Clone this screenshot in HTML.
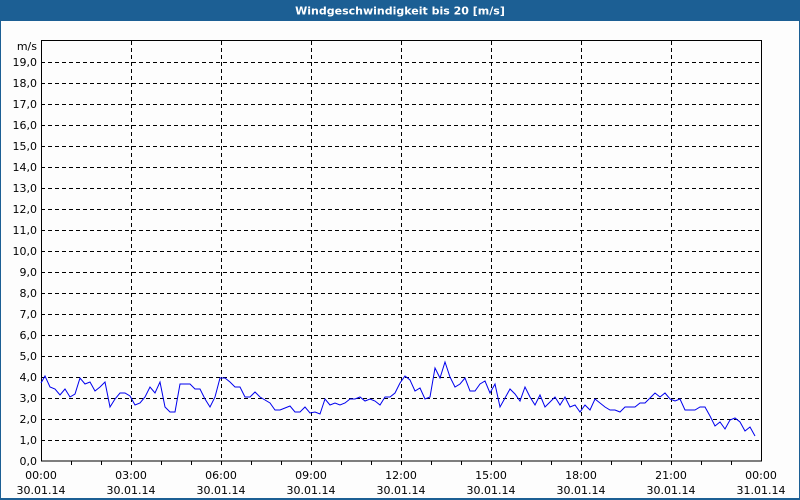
<!DOCTYPE html>
<html><head><style>
html,body{margin:0;padding:0;width:800px;height:500px;overflow:hidden;background:#fff}
</style></head><body>
<svg width="800" height="500" xmlns="http://www.w3.org/2000/svg" font-family="Tahoma, 'DejaVu Sans', 'Liberation Sans', sans-serif" font-size="11">
<rect x="0" y="0" width="800" height="500" fill="#1c5f94"/>
<rect x="1" y="21" width="798" height="477" fill="#fdfdfd"/>
<text x="400" y="14.5" fill="#fff" font-weight="bold" text-anchor="middle">Windgeschwindigkeit bis 20 [m/s]</text>
<g stroke="#000" stroke-width="1" stroke-dasharray="4,3" fill="none">
<path d="M41 440.5H761M41 419.5H761M41 398.5H761M41 377.5H761M41 356.5H761M41 335.5H761M41 314.5H761M41 293.5H761M41 272.5H761M41 251.5H761M41 230.5H761M41 209.5H761M41 188.5H761M41 167.5H761M41 146.5H761M41 125.5H761M41 104.5H761M41 83.5H761M41 62.5H761"/>
<path d="M131.5 41V461M221.5 41V461M311.5 41V461M401.5 41V461M491.5 41V461M581.5 41V461M671.5 41V461"/>
</g>
<rect x="41.5" y="40.5" width="720" height="420.5" fill="none" stroke="#000"/>
<g stroke="#000"><path d="M71.5 461v4M101.5 461v4M131.5 461v4M161.5 461v4M191.5 461v4M221.5 461v4M251.5 461v4M281.5 461v4M311.5 461v4M341.5 461v4M371.5 461v4M401.5 461v4M431.5 461v4M461.5 461v4M491.5 461v4M521.5 461v4M551.5 461v4M581.5 461v4M611.5 461v4M641.5 461v4M671.5 461v4M701.5 461v4M731.5 461v4"/></g>
<g fill="#000" text-anchor="end">
<text x="37" y="50">m/s</text>
<text x="37" y="465">0,0</text><text x="37" y="444">1,0</text><text x="37" y="423">2,0</text><text x="37" y="402">3,0</text><text x="37" y="381">4,0</text><text x="37" y="360">5,0</text><text x="37" y="339">6,0</text><text x="37" y="318">7,0</text><text x="37" y="297">8,0</text><text x="37" y="276">9,0</text><text x="37" y="255">10,0</text><text x="37" y="234">11,0</text><text x="37" y="213">12,0</text><text x="37" y="192">13,0</text><text x="37" y="171">14,0</text><text x="37" y="150">15,0</text><text x="37" y="129">16,0</text><text x="37" y="108">17,0</text><text x="37" y="87">18,0</text><text x="37" y="66">19,0</text>
</g>
<g fill="#000" text-anchor="middle">
<text x="41" y="479">00:00</text><text x="41" y="494">30.01.14</text>
<text x="131" y="479">03:00</text><text x="131" y="494">30.01.14</text>
<text x="221" y="479">06:00</text><text x="221" y="494">30.01.14</text>
<text x="311" y="479">09:00</text><text x="311" y="494">30.01.14</text>
<text x="401" y="479">12:00</text><text x="401" y="494">30.01.14</text>
<text x="491" y="479">15:00</text><text x="491" y="494">30.01.14</text>
<text x="581" y="479">18:00</text><text x="581" y="494">30.01.14</text>
<text x="671" y="479">21:00</text><text x="671" y="494">30.01.14</text>
<text x="761" y="479">00:00</text><text x="761" y="494">31.01.14</text>
</g>
<polyline fill="none" stroke="#0000ee" stroke-width="1" points="41,383 45,376 50,387 55,389 60,395 65,389 70,397 75,394 80,378 85,384 90,382 95,391 100,387 105,382 110,407 115,399 120,393 125,393 130,396 135,405 140,403 145,397 150,387 155,393 160,382 165,407 170,412 175,412 180,384 190,384 195,389 200,389 205,399 210,407 215,397 220,378 225,378 230,382 235,387 240,387 245,397 250,397 255,392 260,397 265,400 270,403 275,410 280,410 285,408 290,406 295,412 300,412 305,407 310,413 315,412 320,414 325,399 330,405 335,403 340,405 345,403 350,399 355,399 360,397 365,401 370,399 375,401 380,405 385,397 390,397 395,393 400,383 405,376 410,380 415,391 420,388 425,399 430,397 435,368 440,378 445,362 450,377 455,387 460,384 465,378 470,391 475,391 480,384 485,381 490,393 495,384 500,407 505,398 510,389 515,394 520,401 525,387 530,397 535,405 540,395 545,407 550,402 555,397 560,405 565,397 570,407 575,405 580,412 585,405 590,410 595,399 600,403 605,407 610,410 615,410 620,412 625,407 630,407 635,407 640,403 645,403 650,398 655,393 660,397 665,393 670,399 675,401 680,399 685,410 690,410 695,410 700,407 705,407 710,416 715,426 720,422 725,429 730,420 735,418 740,422 745,431 750,427 755,436"/>
</svg>
</body></html>
